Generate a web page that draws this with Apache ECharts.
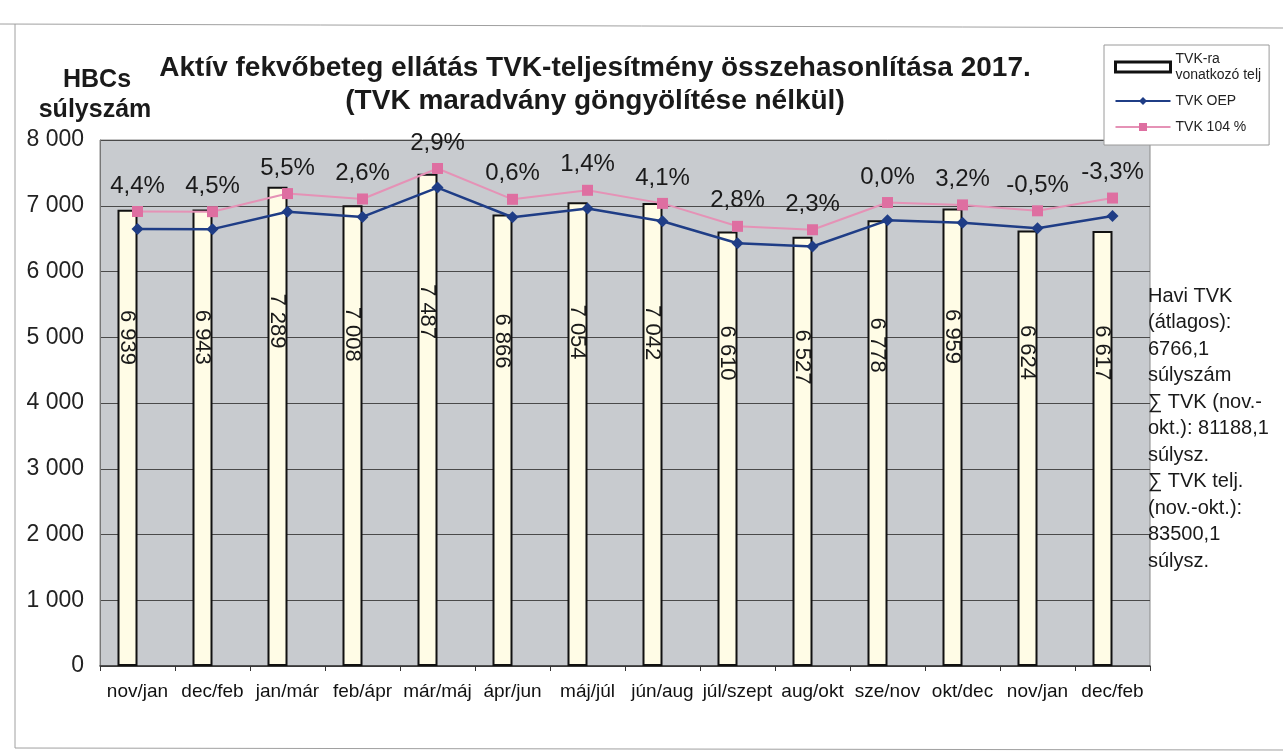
<!DOCTYPE html>
<html>
<head>
<meta charset="utf-8">
<script src="https://cdn.jsdelivr.net/npm/echarts@6/dist/echarts.min.js"></script>
<style>
  html, body { margin: 0; padding: 0; background: #fff; }
  #chart { width: 1283px; height: 756px; }
</style>
</head>
<body>
<div id="chart"></div>
<script>
const categories = ["nov/jan", "dec/feb", "jan/már", "feb/ápr", "már/máj", "ápr/jun", "máj/júl",
  "jún/aug", "júl/szept", "aug/okt", "sze/nov", "okt/dec", "nov/jan", "dec/feb"];
const teljValues = [6939, 6943, 7289, 7008, 7487, 6866, 7054, 7042, 6610, 6527, 6778, 6959, 6624, 6617];
const oepValues = [6647, 6644, 6909, 6830, 7276, 6825, 6957, 6765, 6430, 6380, 6778, 6743, 6657, 6843];
const tvk104Values = [6913, 6910, 7185, 7103, 7567, 7098, 7235, 7036, 6687, 6635, 7049, 7013, 6923, 7117];
const pctLabels = ["4,4%", "4,5%", "5,5%", "2,6%", "2,9%", "0,6%", "1,4%", "4,1%", "2,8%", "2,3%",
  "0,0%", "3,2%", "-0,5%", "-3,3%"];
const sideNote = ["Havi TVK", "(átlagos):", "6766,1", "súlyszám", "∑ TVK (nov.-", "okt.): 81188,1",
  "súlysz.", "∑ TVK telj.", "(nov.-okt.):", "83500,1", "súlysz."];

const FONT = "Liberation Sans, Arial, sans-serif";
const BAR_NAME = "TVK-ra vonatkozó telj";

const fmtThousands = (v) => String(Math.round(v)).replace(/\B(?=(\d{3})+(?!\d))/g, " ");

const chart = echarts.init(document.getElementById("chart"));

const option = {
  backgroundColor: "#ffffff",
  animation: false,
  textStyle: { fontFamily: FONT },
  title: {
    text: "Aktív fekvőbeteg ellátás TVK-teljesítmény összehasonlítása 2017.\n(TVK maradvány göngyölítése nélkül)",
    left: 590,
    top: 47,
    textAlign: "center",
    textStyle: { fontFamily: FONT, fontSize: 28, fontWeight: "bold", color: "#1a1a1a", lineHeight: 33 },
  },
  legend: {
    orient: "vertical",
    left: 1104,
    top: 45,
    width: 174,
    padding: [6, 8, 10, 10],
    itemGap: 10,
    itemWidth: 55,
    itemHeight: 10,
    backgroundColor: "#ffffff",
    borderColor: "#9a9a9a",
    borderWidth: 1,
    borderRadius: 0,
    textStyle: { fontFamily: FONT, fontSize: 14, color: "#222", lineHeight: 16 },
    formatter: (name) => (name === BAR_NAME ? "TVK-ra\nvonatkozó telj" : name),
    data: [
      { name: BAR_NAME, icon: "rect", itemStyle: { color: "#ffffff", borderColor: "#111", borderWidth: 3 } },
      { name: "TVK OEP" },
      { name: "TVK 104 %" },
    ],
  },
  grid: {
    left: 100,
    right: 133,
    top: 140,
    bottom: 90,
    show: true,
    backgroundColor: "#c8cbcf",
    borderColor: "#8a8a8a",
    borderWidth: 1,
  },
  xAxis: {
    type: "category",
    data: categories,
    axisLine: { lineStyle: { color: "#333", width: 1.5 } },
    axisTick: { show: true, length: 5, lineStyle: { color: "#333" } },
    axisLabel: { interval: 0, fontSize: 19, color: "#111", margin: 16, fontFamily: FONT },
    splitLine: { show: false },
  },
  yAxis: {
    type: "value",
    min: 0,
    max: 8000,
    interval: 1000,
    axisLine: { show: true, lineStyle: { color: "#777" } },
    axisTick: { show: false },
    axisLabel: { fontSize: 23, color: "#222", margin: 16, fontFamily: FONT, formatter: fmtThousands },
    splitLine: { lineStyle: { color: "#4a4a4a", width: 1.2 } },
  },
  series: [
    {
      name: BAR_NAME,
      type: "bar",
      data: teljValues,
      barWidth: 20,
      barGap: "0%",
      itemStyle: { color: "#fffce6", borderColor: "#111", borderWidth: 2 },
      label: {
        show: true,
        position: ["50%", "28%"],
        rotate: -90,
        align: "center",
        verticalAlign: "middle",
        fontSize: 22,
        color: "#1a1a1a",
        fontFamily: FONT,
        formatter: (p) => fmtThousands(p.value),
      },
      z: 2,
    },
    {
      // empty slot so the bars sit left of the category centre, as in the original
      name: "spacer",
      type: "bar",
      data: teljValues.map(() => "-"),
      barWidth: 20,
      silent: true,
    },
    {
      name: "TVK OEP",
      type: "line",
      data: oepValues,
      symbol: "diamond",
      symbolSize: 12,
      lineStyle: { color: "#1f3d86", width: 2.5 },
      itemStyle: { color: "#1f3d86" },
      z: 4,
    },
    {
      name: "TVK 104 %",
      type: "line",
      data: tvk104Values,
      symbol: "rect",
      symbolSize: 11,
      lineStyle: { color: "#e592b6", width: 2 },
      itemStyle: { color: "#de6fa1" },
      label: {
        show: true,
        position: "top",
        distance: 8,
        fontSize: 24,
        color: "#1a1a1a",
        fontFamily: FONT,
        formatter: (p) => pctLabels[p.dataIndex],
      },
      z: 5,
    },
  ],
  graphic: [
    { type: "line", shape: { x1: 0, y1: 24, x2: 1283, y2: 28 }, style: { stroke: "#a0a0a0", lineWidth: 1 }, z: -1 },
    { type: "line", shape: { x1: 15, y1: 24, x2: 15, y2: 748 }, style: { stroke: "#a0a0a0", lineWidth: 1 }, z: -1 },
    { type: "line", shape: { x1: 15, y1: 748, x2: 1283, y2: 750 }, style: { stroke: "#a0a0a0", lineWidth: 1 }, z: -1 },
    {
      type: "text",
      x: 97, y: 80,
      style: { text: "HBCs", font: "bold 25px " + FONT, fill: "#1a1a1a", textAlign: "center", textVerticalAlign: "middle" },
    },
    {
      type: "text",
      x: 95, y: 110,
      style: { text: "súlyszám", font: "bold 25px " + FONT, fill: "#1a1a1a", textAlign: "center", textVerticalAlign: "middle" },
    },
    {
      type: "text",
      x: 1148, y: 283,
      style: { text: sideNote.join("\n"), font: "20px " + FONT, fill: "#1a1a1a", lineHeight: 26.5 },
      z: 10,
    },
  ],
};

chart.setOption(option);
</script>
</body>
</html>
